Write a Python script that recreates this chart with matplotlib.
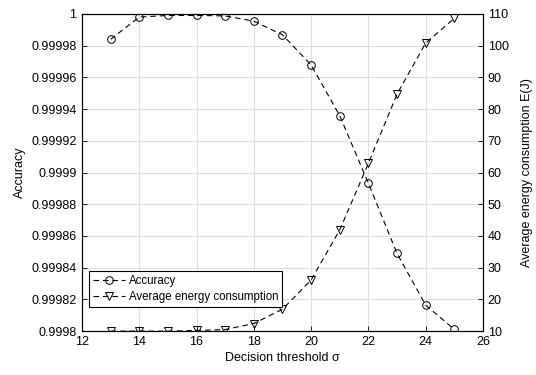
import matplotlib
matplotlib.use('Agg')
import matplotlib.pyplot as plt
from matplotlib.ticker import FuncFormatter
import numpy as np

plt.rcParams['font.family'] = ['Liberation Sans', 'DejaVu Sans']
plt.rcParams['font.size'] = 9

# decision threshold sweep
sigma = [13, 14, 15, 16, 17, 18, 19, 20, 21, 22, 23, 24, 25]
accuracy = [0.999984, 0.999998, 0.999999, 0.999999, 0.9999987, 0.9999954,
            0.9999868, 0.9999678, 0.9999358, 0.9998932, 0.999849, 0.9998164,
            0.9998011]
energy = [10.0, 10.0, 10.0, 10.2, 10.5, 12.4, 16.9, 26.1, 41.9, 62.9, 84.7,
          100.8, 108.6]

fig = plt.figure(figsize=(5.36, 3.75), dpi=100)
ax = fig.add_axes([0.153, 0.117, 0.748, 0.846])
ax2 = ax.twinx()

l1, = ax.plot(sigma, accuracy, 'k--', lw=0.8, marker='o', ms=5.5,
              mfc='none', mew=0.7, dashes=(5, 3.5), label='Accuracy')
l2, = ax2.plot(sigma, energy, 'k--', lw=0.8, marker='v', ms=6,
               mfc='none', mew=0.7, dashes=(5, 3.5),
               label='Average energy consumption')

ax.set_xlim(12, 26)
ax.set_ylim(0.9998, 1.0)
ax2.set_ylim(10, 110)
ax.set_xticks(np.arange(12, 27, 2))
ax.set_yticks(np.linspace(0.9998, 1.0, 11))
ax2.set_yticks(np.arange(10, 111, 10))
ax.yaxis.set_major_formatter(FuncFormatter(
    lambda v, p: ('%.5f' % v).rstrip('0').rstrip('.')))

ax.grid(True, color='#dedede', lw=0.8)
ax.set_axisbelow(True)
for a in (ax, ax2):
    a.tick_params(direction='in', length=3.5, width=0.6, colors='k',
                  top=False)
    for s in a.spines.values():
        s.set_linewidth(0.8)
ax.tick_params(axis='y', pad=4)

ax.set_xlabel('Decision threshold σ', labelpad=3)
ax.set_ylabel('Accuracy', labelpad=4)
ax2.set_ylabel('Average energy consumption E(J)', labelpad=9)

leg = ax2.legend(handles=[l1, l2], loc='lower left',
                 bbox_to_anchor=(0.017, 0.075), fancybox=False,
                 edgecolor='k', framealpha=1, handlelength=2.8,
                 borderaxespad=0, borderpad=0.35, labelspacing=0.35,
                 handletextpad=0.3, fontsize=8.3)
leg.get_frame().set_linewidth(0.8)

fig.savefig('out.png', dpi=100)
